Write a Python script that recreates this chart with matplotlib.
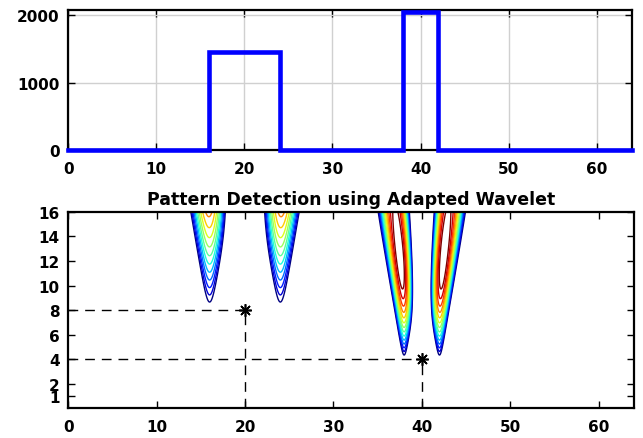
import numpy as np
import matplotlib
matplotlib.use('Agg')
import matplotlib.pyplot as plt

# piecewise constant test signal: segment breakpoints and level of each segment
edges = [0, 16, 24, 38, 42, 64]
levels = [0, 1450, 0, 2050, 0]

# expected position / scale of the two patterns
mark_pos = [20, 40]
mark_scale = [8, 4]

xticks = [0, 10, 20, 30, 40, 50, 60]
yticks_top = [0, 1000, 2000]
yticks_bot = [1, 2, 4, 6, 8, 10, 12, 14, 16]
title = 'Pattern Detection using Adapted Wavelet'

WIDTH = 0.17      # wavelet width relative to scale
N_LEVELS = 14

plt.rcParams['font.family'] = ['DejaVu Sans']
plt.rcParams['font.weight'] = 'bold'
plt.rcParams['font.size'] = 11

fig = plt.figure(figsize=(6.43, 4.39), dpi=100)
ax1 = fig.add_axes([0.106, 0.656, 0.877, 0.319])
ax2 = fig.add_axes([0.106, 0.068, 0.880, 0.447])

# --- top: signal
xs = np.repeat(edges, 2)[1:-1]
ys = np.repeat(levels, 2)
ax1.plot(xs, ys, color='#0000ff', lw=3.3, clip_on=False, zorder=5,
         solid_joinstyle='miter')
ax1.set_xlim(0, 64)
ax1.set_ylim(0, 2075)
ax1.set_xticks(xticks)
ax1.set_yticks(yticks_top)
ax1.grid(True, color='#d0d0d0', lw=1)
ax1.set_axisbelow(True)

# --- bottom: cwt with a gaussian-derivative wavelet.
# the signal is a sum of steps, each step gives a gaussian bump in b.
jumps = np.diff(levels)
b = np.linspace(0, 64, 1281)
s = np.linspace(0.5, 16, 311)
B, S = np.meshgrid(b, s)
sig = WIDTH * S
C = np.zeros_like(B)
for e, d in zip(edges[1:-1], jumps):
    C += d * np.exp(-(e - B) ** 2 / (2 * sig ** 2))
C = np.abs(C) * np.sqrt(S)

# lowest contour: first pattern shows up from scale ~8.7
lo = C[(S <= 8.7) & (B < 30)].max()
lv = np.linspace(lo, C.max() * 0.97, N_LEVELS)
ax2.contour(B, S, C, levels=lv, cmap='jet', linewidths=1.0)

for p, sc in zip(mark_pos, mark_scale):
    ax2.plot([0, p], [sc, sc], color='k', lw=1, dashes=(7, 5))
    ax2.plot([p, p], [0, sc], color='k', lw=1, dashes=(7, 5))
    ax2.plot(p, sc, marker=(8, 2, 0), color='k', ms=9, mew=1.2,
             linestyle='none')

ax2.set_xlim(0, 64)
ax2.set_ylim(0, 16)
ax2.set_xticks(xticks)
ax2.set_yticks(yticks_bot)
ax2.set_title(title, fontsize=12.5, fontweight='bold', pad=6)

for ax in (ax1, ax2):
    ax.tick_params(direction='in', top=True, right=True, length=5, width=1,
                   labelsize=11, pad=8)
    ax.tick_params(axis='y', pad=6)
    for sp in ax.spines.values():
        sp.set_linewidth(1.6)

fig.savefig('out.png', dpi=100)
